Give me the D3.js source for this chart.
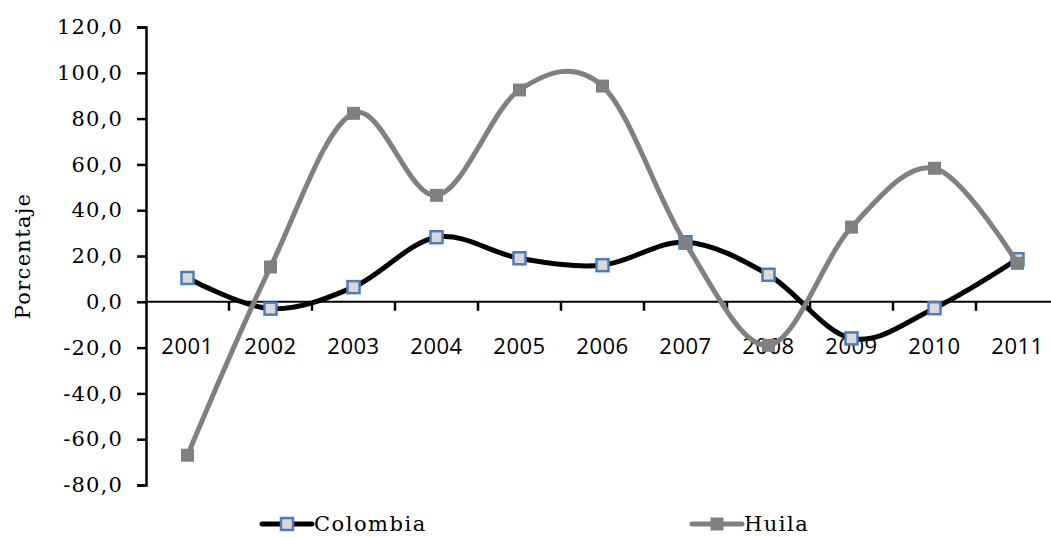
<!DOCTYPE html>
<html>
<head>
<meta charset="utf-8">
<script src="https://cdn.jsdelivr.net/npm/d3@7"></script>
<style>
  body { margin: 0; background: #fff; }
</style>
</head>
<body>
<svg id="chart" width="1051" height="537"></svg>
<script>
// years on the category axis
const years = ['2001', '2002', '2003', '2004', '2005', '2006', '2007', '2008', '2009', '2010', '2011']
// annual variation, percent
const colombia = [10.4, -3.0, 6.4, 28.2, 19.0, 16.0, 26.0, 11.8, -16.0, -2.8, 18.6]
const huila = [-67.0, 15.2, 82.3, 46.5, 92.5, 94.2, 25.5, -19.0, 32.6, 58.3, 16.8]
const yTicks = [120, 100, 80, 60, 40, 20, 0, -20, -40, -60, -80]

const svg = d3.select('#chart')
const serif = '"DejaVu Serif", serif'

const x = d3.scaleBand().domain(years).range([146, 1059])
const y = d3.scaleLinear().domain([-80, 120]).range([485, 27])

const fmt = v => d3.format('.1f')(v).replace('.', ',').replace('−', '-')

// y axis
const yAxis = svg.append('g')
  .attr('transform', 'translate(146,0)')
  .call(d3.axisLeft(y).tickValues(yTicks).tickSize(9).tickPadding(14).tickFormat(fmt))
yAxis.select('.domain').attr('stroke', '#000').attr('stroke-width', 2.5)
yAxis.selectAll('.tick line').attr('stroke-width', 2.5)
yAxis.selectAll('.tick text')
  .attr('font-family', serif)
  .attr('font-size', 21)
  .attr('letter-spacing', 1.2)
  .attr('fill', '#000')

// x axis at zero, ticks between categories
const xAxis = svg.append('g')
  .attr('transform', `translate(0,${y(0)})`)
xAxis.append('line')
  .attr('x1', 146).attr('x2', 1059)
  .attr('stroke', '#000').attr('stroke-width', 2)
xAxis.selectAll('line.tk')
  .data(years.slice(1))
  .join('line')
  .attr('class', 'tk')
  .attr('x1', d => x(d)).attr('x2', d => x(d))
  .attr('y1', 0).attr('y2', 9)
  .attr('stroke', '#000').attr('stroke-width', 2.5)
xAxis.selectAll('text')
  .data(years)
  .join('text')
  .attr('x', d => x(d) + x.bandwidth() / 2)
  .attr('y', 52)
  .attr('text-anchor', 'middle')
  .attr('font-family', '"Open Sans", sans-serif')
  .attr('font-size', 22)
  .attr('letter-spacing', 0.5)
  .text(d => d)

// axis title
svg.append('text')
  .attr('transform', 'translate(30,256) rotate(-90)')
  .attr('text-anchor', 'middle')
  .attr('font-family', serif)
  .attr('font-size', 21)
  .attr('letter-spacing', 1.3)
  .text('Porcentaje')

const cx = (d, i) => x(years[i]) + x.bandwidth() / 2
const line = d3.line().x(cx).y(d => y(d)).curve(d3.curveCardinal.tension(0))

const series = [
  { name: 'Colombia', values: colombia, stroke: '#000', fill: '#d9d9d9', mstroke: '#4a7ebb', size: 12, lx: 262 },
  { name: 'Huila', values: huila, stroke: '#808080', fill: '#808080', mstroke: '#808080', size: 13, lx: 692 }
]

series.forEach(s => {
  svg.append('path')
    .datum(s.values)
    .attr('d', line)
    .attr('fill', 'none')
    .attr('stroke', s.stroke)
    .attr('stroke-width', 5)
    .attr('stroke-linecap', 'round')
  svg.append('g').selectAll('rect')
    .data(s.values)
    .join('rect')
    .attr('x', (d, i) => cx(d, i) - s.size / 2)
    .attr('y', d => y(d) - s.size / 2)
    .attr('width', s.size).attr('height', s.size)
    .attr('fill', s.fill)
    .attr('stroke', s.mstroke)
    .attr('stroke-width', s.mstroke === s.fill ? 0 : 2.5)

  // legend entry
  const lg = svg.append('g').attr('transform', `translate(${s.lx},524)`)
  lg.append('line').attr('x1', 0).attr('x2', 50)
    .attr('stroke', s.stroke).attr('stroke-width', 5).attr('stroke-linecap', 'round')
  lg.append('rect').attr('x', 25 - s.size / 2).attr('y', -s.size / 2)
    .attr('width', s.size).attr('height', s.size)
    .attr('fill', s.fill).attr('stroke', s.mstroke)
    .attr('stroke-width', s.mstroke === s.fill ? 0 : 2.5)
  lg.append('text').attr('x', 52).attr('y', 7)
    .attr('font-family', serif)
    .attr('font-size', 21)
    .attr('letter-spacing', 1.5)
    .text(s.name)
})
</script>
</body>
</html>
